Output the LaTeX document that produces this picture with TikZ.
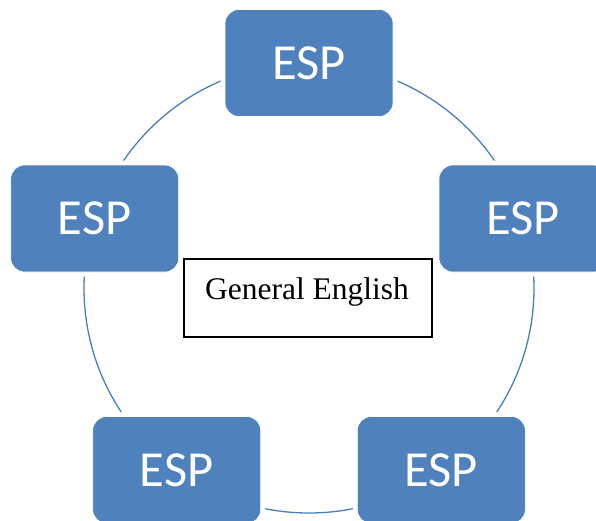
\documentclass[tikz,border=0pt]{standalone}
\usepackage{fontspec}
\setmainfont{Liberation Serif}
\newfontfamily\espfont{Carlito}
\definecolor{boxblue}{HTML}{4F81BD}
\definecolor{ringblue}{HTML}{4A7EBB}
\tikzset{
  espbox/.style={rectangle, rounded corners=14pt, minimum width=168pt, minimum height=107pt,
    inner sep=0pt, fill=boxblue, draw=white, line width=0.6pt, text=white,
    font=\espfont\fontsize{50.5}{60}\selectfont,
    preaction={draw=white, line width=9pt}},
  ring/.style={draw=ringblue, line width=1.3pt},
  gebox/.style={rectangle, draw=black, line width=1.3pt, minimum width=248pt, minimum height=78pt, inner sep=0pt},
  getext/.style={font=\fontsize{31.5}{38}\selectfont, inner sep=0pt}
}
\begin{document}
\begin{tikzpicture}[x=1pt,y=-1pt]
\useasboundingbox (0,0) rectangle (596,520);
\clip (0,0) rectangle (596,520);
\coordinate (c) at (309,288);
\draw[ring] (c) circle[radius=225];
\node[espbox] (e1) at (309,63) {ESP};
\node[espbox] (e2) at (523,218.5) {ESP};
\node[espbox] (e3) at (441.3,470) {ESP};
\node[espbox] (e4) at (176.7,470) {ESP};
\node[espbox] (e5) at (94.7,218.5) {ESP};
\node[gebox] (ge) at (308,298) {};
\node[getext, anchor=base] (get) at (307,299) {General English};
\end{tikzpicture}
\end{document}
